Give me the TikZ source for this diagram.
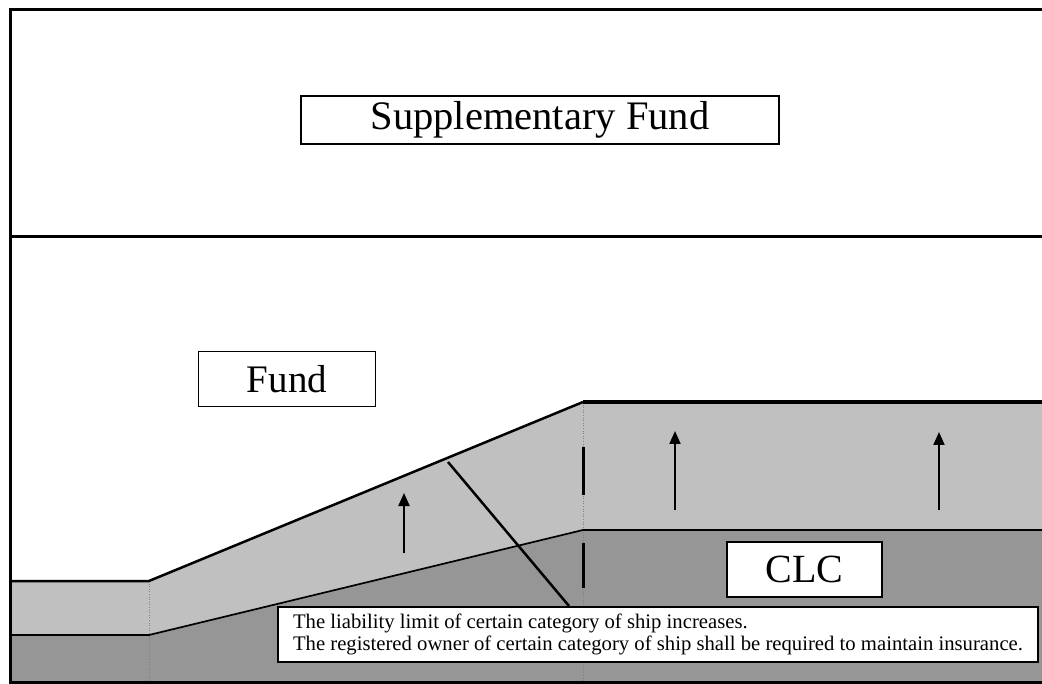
\documentclass[tikz,border=0pt]{standalone}
\usepackage{fontspec}
\setmainfont{Liberation Serif}
\usetikzlibrary{arrows.meta}

\definecolor{lightband}{HTML}{C0C0C0}
\definecolor{darkband}{HTML}{969696}

\tikzset{
  labelbox/.style={draw, line width=1.5pt, fill=white, inner sep=0pt},
  rise/.style={-{Triangle[length=13pt,width=11pt]}, line width=2pt},
  sepline/.style={gray, dotted, line width=0.6pt},
}

\begin{document}
\begin{tikzpicture}[x=1pt,y=-1pt]
\useasboundingbox (0,0) rectangle (1042,684);

% CLC and Fund bands
\fill[lightband] (9,581) -- (149,581) -- (583,402) -- (1042,402) -- (1042,682) -- (9,682) -- cycle;
\fill[darkband] (9,635) -- (149,635) -- (583,530) -- (1042,530) -- (1042,682) -- (9,682) -- cycle;

% thin dotted separators
\draw[sepline] (149,581) -- (149,682);
\draw[sepline] (583,402) -- (583,682);

% dashed divider
\draw[line width=3pt] (583,447) -- (583,495);
\draw[line width=3pt] (583,543) -- (583,588);

% band edges
\draw[line width=2.5pt] (9,581) -- (149,581) -- (583,402);
\draw[line width=4.5pt] (583,402) -- (1042,402);
\draw[line width=1.7pt] (9,635) -- (149,635) -- (583,530) -- (1042,530);

% frame
\draw[line width=3pt] (1042,10) -- (10,10) -- (10,682) -- (1042,682);
\draw[line width=3pt] (10,236.5) -- (1042,236.5);

% increase arrows
\draw[rise] (404,553) -- (404,493);
\draw[rise] (675,510) -- (675,431);
\draw[rise] (939,510) -- (939,432);

% labels
\node[labelbox, minimum width=478pt, minimum height=48pt,
  font=\fontsize{40.5}{40.5}\selectfont] (sfund) at (540,120) {Supplementary Fund};
\node[labelbox, minimum width=177pt, minimum height=55pt,
  font=\fontsize{39}{39}\selectfont] (fund) at (287,379) {Fund};
\node[labelbox, minimum width=155pt, minimum height=55pt,
  font=\fontsize{40}{40}\selectfont] (clc) at (804.5,569.5) {CLC};

% note on the change
\node[labelbox, line width=2pt, anchor=north west, minimum width=760pt,
  minimum height=55pt, inner xsep=12pt, align=left,
  font=\fontsize{20.7}{21.5}\selectfont] (note) at (277,606)
  {The liability limit of certain category of ship increases.\\
   The registered owner of certain category of ship shall be required to maintain insurance.};

\coordinate (kink) at (448,462);
\draw[line width=2.5pt] (kink) -- ([xshift=292pt]note.north west);

\end{tikzpicture}
\end{document}
